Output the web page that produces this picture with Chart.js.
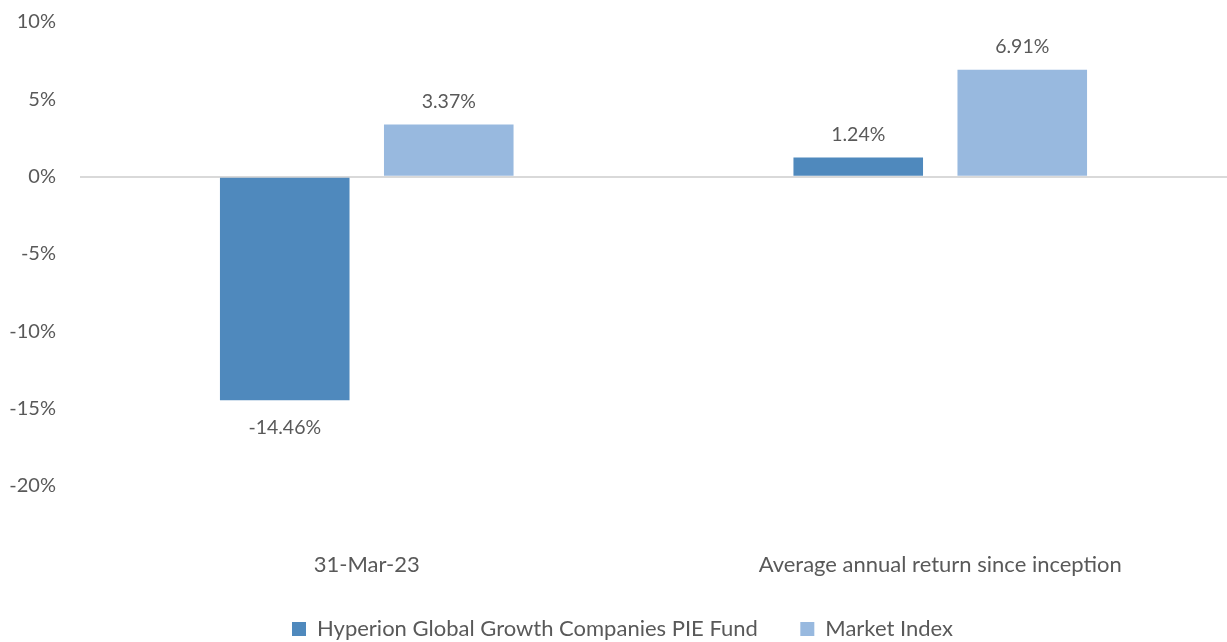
<!DOCTYPE html>
<html>
<head>
<meta charset="utf-8">
<script src="https://cdn.jsdelivr.net/npm/chart.js@4"></script>
<style>
  html, body { margin: 0; padding: 0; background: #fff; }
  #wrap { width: 1227px; height: 642px; }
</style>
</head>
<body>
<div id="wrap"><canvas id="grafico"></canvas></div>
<script>
// dados
const categorias = ["31-Mar-23", "Average annual return since inception"];
const fundo = [-14.46, 1.24];
const indice = [3.37, 6.91];
const ticksY = [-20, -15, -10, -5, 0, 5, 10];

const corTexto = "#595959";
const fonte = "Lato, 'Open Sans', sans-serif";

// rótulos de valor em cima/baixo das barras
const rotulos = {
    id: "rotulos",
    afterLayout(chart) {
        // legenda um pouco deslocada para a direita, como no original
        chart.legend.left += 9;
        chart.legend.right += 9;
    },
    afterDatasetsDraw(chart) {
        const ctx = chart.ctx;
        ctx.save();
        ctx.font = "19.5px " + fonte;
        ctx.fillStyle = corTexto;
        ctx.textAlign = "center";
        ctx.textBaseline = "middle";
        chart.data.datasets.forEach((ds, i) => {
            chart.getDatasetMeta(i).data.forEach((bar, j) => {
                const v = ds.data[j];
                const txt = v.toFixed(2) + "%";
                ctx.fillText(txt, bar.x, v >= 0 ? bar.y - 23 : bar.y + 27);
            });
        });
        ctx.restore();
    }
};

new Chart(document.getElementById("grafico").getContext("2d"), {
    type: "bar",
    data: {
        labels: categorias,
        datasets: [{
            label: "Hyperion Global Growth Companies PIE Fund",
            data: fundo,
            backgroundColor: "#4f89bd"
        }, {
            label: "Market Index",
            data: indice,
            backgroundColor: "#98b9df"
        }]
    },
    options: {
        responsive: true,
        maintainAspectRatio: false,
        animation: false,
        categoryPercentage: 0.572,
        barPercentage: 0.79,
        layout: { padding: { top: 0, right: 0, left: 0, bottom: -8 } },
        plugins: {
            legend: {
                position: "bottom",
                labels: {
                    color: corTexto,
                    font: { size: 22, family: fonte },
                    boxWidth: 14,
                    boxHeight: 14,
                    padding: 3,
                    generateLabels: chart => {
                        const itens = Chart.defaults.plugins.legend.labels.generateLabels(chart);
                        // espaço extra entre os dois itens da legenda
                        itens[0].text = itens[0].text + "       ";
                        return itens;
                    }
                }
            },
            tooltip: { enabled: false }
        },
        scales: {
            x: {
                grid: { display: false },
                border: { display: false },
                afterFit: axis => { axis.height = 129; },
                ticks: {
                    color: corTexto,
                    font: { size: 22, family: fonte },
                    padding: 58
                }
            },
            y: {
                min: -20,
                max: 10,
                afterBuildTicks: axis => { axis.ticks = ticksY.map(v => ({ value: v })); },
                afterFit: axis => {
                    axis.width = 80;
                    axis.paddingTop = 22;
                    axis.paddingBottom = 10;
                },
                border: { display: false },
                grid: {
                    drawTicks: false,
                    lineWidth: 2,
                    color: c => c.tick && c.tick.value === 0 ? "#d9d9d9" : "rgba(0,0,0,0)"
                },
                ticks: {
                    color: corTexto,
                    font: { size: 20, family: fonte },
                    padding: 24,
                    callback: v => v + "%"
                }
            }
        }
    },
    plugins: [rotulos]
});
</script>
</body>
</html>
